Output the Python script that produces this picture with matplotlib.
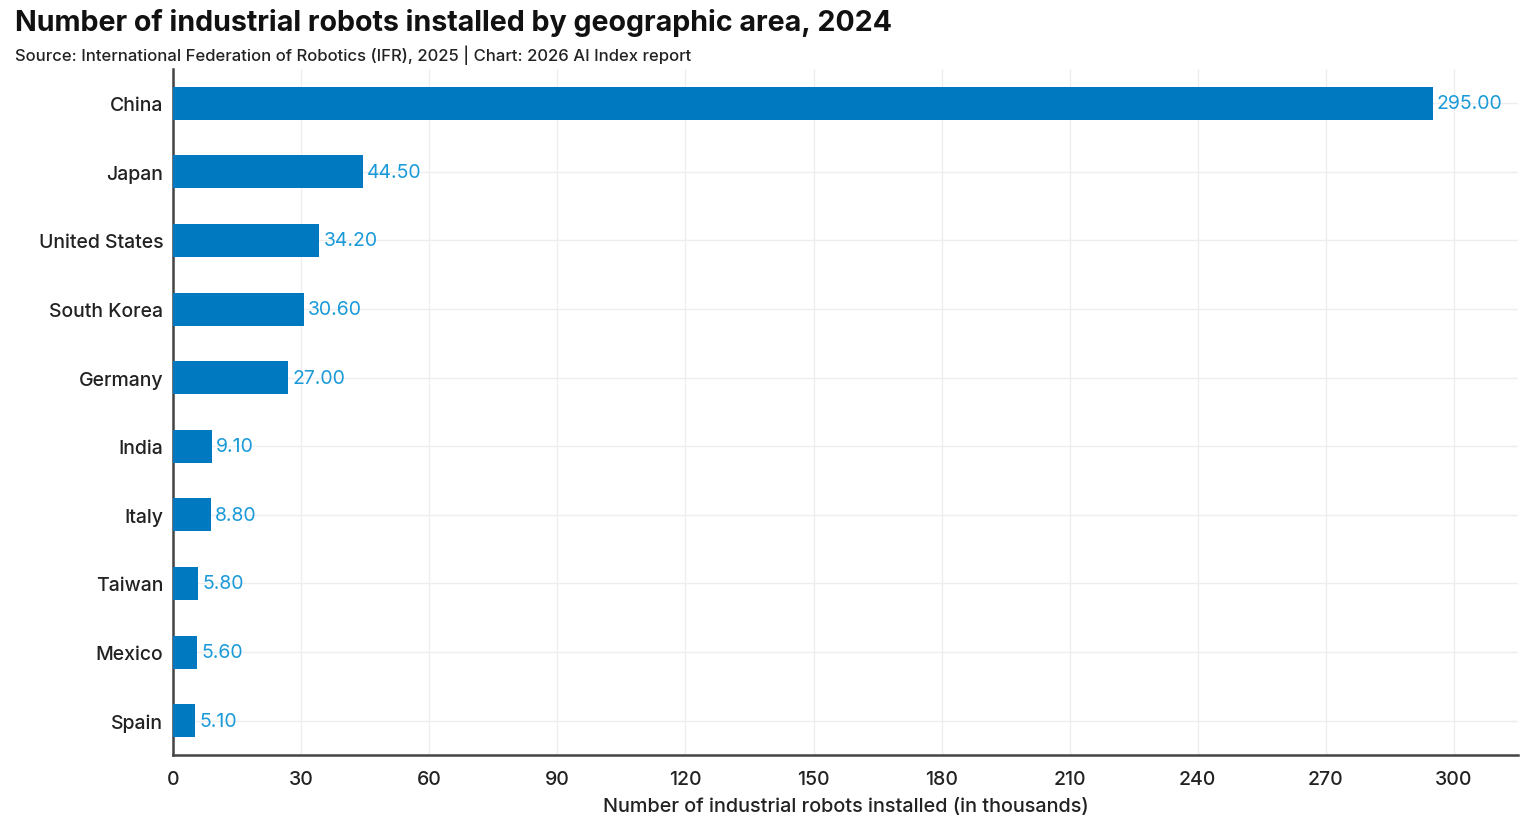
import matplotlib.pyplot as plt

plt.rcParams['font.family'] = ['Inter', 'DejaVu Sans']

paises = ['China', 'Japan', 'United States', 'South Korea', 'Germany',
          'India', 'Italy', 'Taiwan', 'Mexico', 'Spain']
robos = [295.00, 44.50, 34.20, 30.60, 27.00, 9.10, 8.80, 5.80, 5.60, 5.10]
ticks_x = [0, 30, 60, 90, 120, 150, 180, 210, 240, 270, 300]

fig = plt.figure(figsize=(15.34, 8.28), dpi=100)
ax = fig.add_axes([0.1128, 0.087, 0.8768, 0.8285])

posicoes = list(range(len(paises)))
ax.barh(posicoes, robos, height=0.48, color='#0079C1', zorder=3)

for p, v in zip(posicoes, robos):
    ax.text(v + 1.0, p, f'{v:.2f}', va='center', ha='left',
            fontsize=14, color='#1A9AD8', zorder=4)

ax.set_yticks(posicoes)
ax.set_yticklabels(paises, fontsize=14, color='#222222', fontweight='medium')
ax.set_xticks(ticks_x)
ax.set_xticklabels([str(t) for t in ticks_x], fontsize=14, color='#222222', fontweight='medium')
ax.set_xlim(0, 315)
ax.set_ylim(9.5, -0.5)

ax.grid(True, color='#EEEEEE', linewidth=1, zorder=0)
ax.tick_params(axis='x', length=0, pad=11)
ax.tick_params(axis='y', length=0, pad=7)

for lado in ['top', 'right']:
    ax.spines[lado].set_visible(False)
for lado in ['left', 'bottom']:
    ax.spines[lado].set_color('#444444')
    ax.spines[lado].set_linewidth(1.8)

ax.set_xlabel('Number of industrial robots installed (in thousands)',
              fontsize=14.3, color='#222222', fontweight='medium', labelpad=6)

fig.text(0.0098, 0.972, 'Number of industrial robots installed by geographic area, 2024',
         fontsize=20.6, fontweight='bold', va='center', ha='left', color='#111111')
fig.text(0.0098, 0.933, 'Source: International Federation of Robotics (IFR), 2025 | Chart: 2026 AI Index report',
         fontsize=12, fontweight='medium', va='center', ha='left', color='#222222')

fig.savefig('out.png', dpi=100)
